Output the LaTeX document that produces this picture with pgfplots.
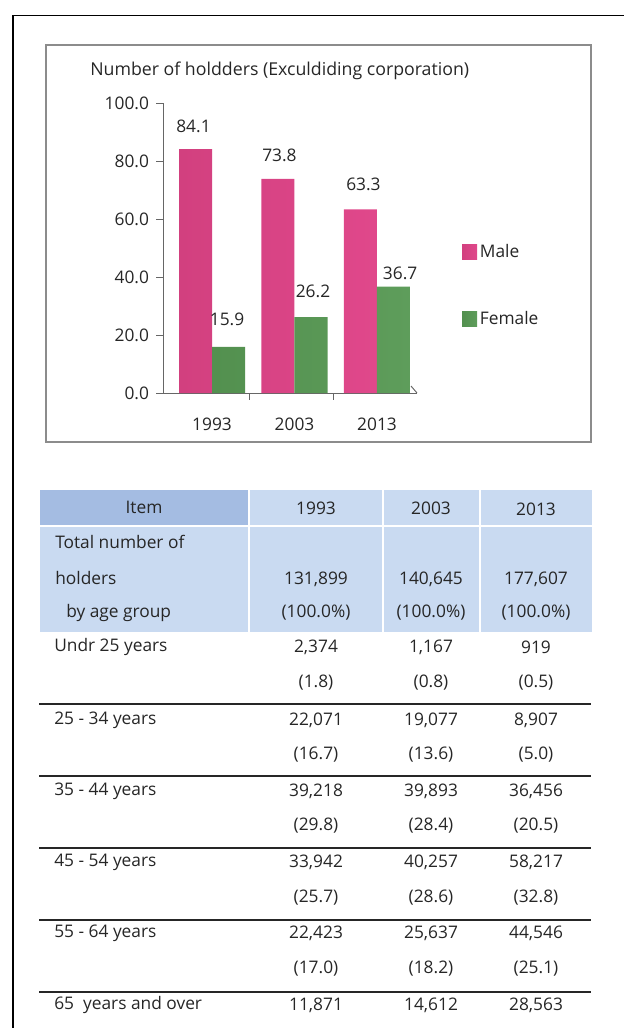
\documentclass[border=0pt]{standalone}
\usepackage{fontspec}
\setmainfont{Open Sans}
\usepackage{pgfplots}
\usepackage{pgfplotstable}
\pgfplotsset{compat=1.18}

\definecolor{pinkL}{HTML}{D2407F}
\definecolor{pinkM}{HTML}{F05398}
\definecolor{pinkR}{HTML}{E0488B}
\definecolor{greenL}{HTML}{53904F}
\definecolor{greenM}{HTML}{6DAE69}
\definecolor{greenR}{HTML}{5E9D5B}
\definecolor{hdrdark}{HTML}{A4BCE2}
\definecolor{hdrlight}{HTML}{C9DAF1}
\definecolor{ink}{HTML}{262626}

% share of holders by sex (%), dx/dy = label offset in pt
\pgfplotstableread{
x y dx dy
0 84.1 -1.5 17
1 73.8 1.1 18
2 63.3 2.2 19
}\maletab
\pgfplotstableread{
x y dx dy
0 15.9 -1.1 21
1 26.2 1.5 19.5
2 36.7 5 10
}\femtab

\newcommand{\tf}{\fontsize{13}{15}\selectfont}

\begin{document}
\begin{tikzpicture}
\begin{scope}[x=0.75pt,y=-0.75pt]
  \path[use as bounding box] (0,0) rectangle (624,1028);
  % page frame
  \draw[black, line width=1.2pt] (13,1028) -- (13,15.5) -- (624,15.5);
  % chart frame
  \draw[black!45, line width=0.8pt] (46,45) rectangle (591,442);
  \node[anchor=west, font=\fontsize{13.3}{15}\selectfont, text=ink, inner sep=0pt] at (90,71)
    {Number of holdders (Exculdiding corporation)};
\end{scope}

\begin{axis}[
  at={(122.25pt,-294.75pt)}, anchor=south west,
  scale only axis, width=190.5pt, height=217.5pt,
  xmin=-0.594, xmax=2.485, ymin=0, ymax=100,
  axis lines*=left,
  axis line style={draw=black!60, line width=0.7pt},
  ybar=0pt, bar width=24.75pt,
  xtick={0.45,1.47}, xticklabels={},
  extra x ticks={0,1,2}, extra x tick labels={1993,2003,2013},
  extra x tick style={major tick length=0pt, xticklabel style={yshift=-15.5pt}},
  ytick={0,20,...,100},
  tick align=outside, major tick length=5pt,
  tick style={draw=black!60, line width=0.7pt},
  /pgf/number format/assume math mode=true,
  tick label style={font=\tf, text=ink},
  yticklabel style={/pgf/number format/fixed, /pgf/number format/fixed zerofill,
    /pgf/number format/precision=1, xshift=-2pt},
  nodes near coords,
  nodes near coords style={/pgf/number format/fixed, /pgf/number format/fixed zerofill,
    /pgf/number format/precision=1},
  visualization depends on={\thisrow{dx}\as\dx},
  visualization depends on={\thisrow{dy}\as\dy},
  every node near coord/.append style={anchor=center, xshift=\dx pt, yshift=\dy pt,
    font=\tf, text=ink},
  legend image code/.code={\fill[#1] (0pt,-5.6pt) rectangle (11.25pt,5.6pt);},
  legend style={at={(axis description cs:1.177,0.372)}, anchor=west,
    draw=none, fill=none, inner sep=0pt, row sep=35pt,
    font=\tf, text=ink, cells={anchor=west}},
  clip=false,
]
\addplot[draw=none, left color=pinkL, middle color=pinkM, right color=pinkR]
  table[x=x, y=y] {\maletab};
\addplot[draw=none, left color=greenL, middle color=greenM, right color=greenR]
  table[x=x, y=y] {\femtab};
\legend{Male, Female}
\end{axis}

\begin{scope}[x=0.75pt,y=-0.75pt]
  \draw[black!60, line width=0.7pt] (411,386) -- (417,393);
  % table header
  \fill[hdrdark] (40,490) rectangle (248,525);
  \fill[hdrlight] (250,490) rectangle (382,525);
  \fill[hdrlight] (384,490) rectangle (479,525);
  \fill[hdrlight] (481,490) rectangle (592,525);
  \fill[hdrlight] (40,527) rectangle (248,632);
  \fill[hdrlight] (250,527) rectangle (382,632);
  \fill[hdrlight] (384,527) rectangle (479,632);
  \fill[hdrlight] (481,527) rectangle (592,632);
  \begin{scope}[every node/.style={font=\tf, text=ink, inner sep=0pt}]
    \node at (144,507) {Item};
    \node at (316,508) {1993};
    \node at (431,508) {2003};
    \node at (536,509) {2013};
    \node[anchor=west] at (55,542) {Total number of};
    \node[anchor=west] at (55,578) {holders};
    \node[anchor=west] at (66,613) {by age group};
    \node at (316,579) {131,899};  \node at (431,579) {140,645};  \node at (536,579) {177,607};
    \node at (316,613) {(100.0\%)}; \node at (431,613) {(100.0\%)}; \node at (536,613) {(100.0\%)};
    % age groups
    \node[anchor=west] at (54,647) {Undr 25 years};
    \node at (316,647) {2,374};  \node at (431,647) {1,167};  \node at (536,647) {919};
    \node at (316,683) {(1.8)};  \node at (431,683) {(0.8)};  \node at (536,683) {(0.5)};
    \node[anchor=west] at (54,720) {25 - 34 years};
    \node at (316,720) {22,071}; \node at (431,720) {19,077}; \node at (536,720) {8,907};
    \node at (316,755) {(16.7)}; \node at (431,755) {(13.6)}; \node at (536,755) {(5.0)};
    \node[anchor=west] at (54,791) {35 - 44 years};
    \node at (316,791) {39,218}; \node at (431,791) {39,893}; \node at (536,791) {36,456};
    \node at (316,826) {(29.8)}; \node at (431,826) {(28.4)}; \node at (536,826) {(20.5)};
    \node[anchor=west] at (54,862) {45 - 54 years};
    \node at (316,862) {33,942}; \node at (431,862) {40,257}; \node at (536,862) {58,217};
    \node at (316,898) {(25.7)}; \node at (431,898) {(28.6)}; \node at (536,898) {(32.8)};
    \node[anchor=west] at (54,933) {55 - 64 years};
    \node at (316,933) {22,423}; \node at (431,933) {25,637}; \node at (536,933) {44,546};
    \node at (316,969) {(17.0)}; \node at (431,969) {(18.2)}; \node at (536,969) {(25.1)};
    \node[anchor=west] at (54,1005) {65~ years and over};
    \node at (316,1005) {11,871}; \node at (431,1005) {14,612}; \node at (536,1005) {28,563};
  \end{scope}
  \foreach \yy in {704,776,848,920,992}
    \draw[ink, line width=1.1pt] (39,\yy) -- (591,\yy);
\end{scope}
\end{tikzpicture}
\end{document}
